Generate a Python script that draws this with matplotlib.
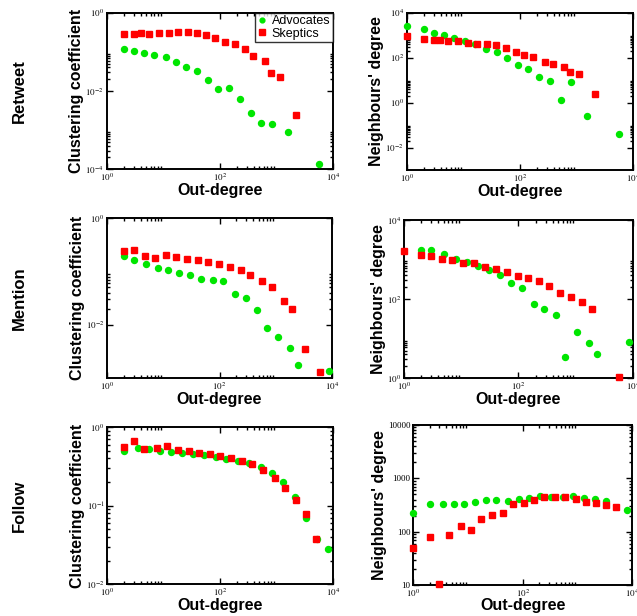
"""
Clustering coefficient and neighbours' degree vs out-degree
for advocates and skeptics in retweet / mention / follow networks
"""

import numpy as np
import matplotlib.pyplot as plt
from matplotlib.ticker import FixedLocator, FuncFormatter, NullFormatter

plt.rcParams['font.family'] = ['Liberation Sans', 'DejaVu Sans']
plt.rcParams['mathtext.fontset'] = 'stix'

GREEN = '#00e600'
RED = '#ff0000'

# Retweet - clustering coefficient
rt_cc_adv_x = [2, 3, 4.5, 7, 11, 16.6, 25, 39, 61, 95, 144, 229, 354, 546, 832, 1620, 5800]
rt_cc_adv_y = [0.116, 0.105, 0.095, 0.081, 0.072, 0.054, 0.041, 0.032, 0.019, 0.0112, 0.0119,
               0.0061, 0.0028, 0.00155, 0.00147, 0.00088, 0.000137]
rt_cc_ske_x = [2, 3, 4.1, 5.5, 8.4, 12.7, 18, 27, 40, 58, 84, 124, 187, 285, 394, 626, 810, 1185, 2274]
rt_cc_ske_y = [0.28, 0.291, 0.297, 0.291, 0.309, 0.309, 0.321, 0.327, 0.309, 0.274, 0.23, 0.178,
               0.162, 0.118, 0.080, 0.059, 0.0288, 0.0223, 0.0024]

# Retweet - neighbours' degree
rt_nd_adv_x = [1, 2, 3, 4.5, 6.9, 10.8, 16.4, 25, 39, 59, 91, 140, 217, 344, 525, 811, 1555, 5577]
rt_nd_adv_y = [2565, 1827, 1300, 1024, 729, 574, 395, 245, 181, 98, 46, 30.8, 14.1, 9.06, 1.3,
               8.47, 0.246, 0.0406]
rt_nd_ske_x = [1, 2, 3, 3.9, 5.4, 8.2, 12.2, 17.3, 25.7, 38.6, 57.3, 84, 119, 172, 273, 379, 593,
               757, 1123, 2155]
rt_nd_ske_y = [925, 705, 637, 615, 537, 555, 453, 423, 409, 357, 272, 175, 129, 105, 65, 51.4,
               39.1, 21.9, 17.9, 2.49]

# Mention - clustering coefficient
mn_cc_adv_x = [2, 3, 4.8, 7.9, 12.2, 19, 30, 47, 75, 117, 189, 293, 466, 693, 1119, 1784, 2510, 8960]
mn_cc_adv_y = [0.197, 0.161, 0.139, 0.117, 0.107, 0.093, 0.0866, 0.0728, 0.0678, 0.0668, 0.0371,
               0.0312, 0.0191, 0.00866, 0.00587, 0.00365, 0.0017, 0.00131]
mn_cc_ske_x = [2, 3, 4.6, 7, 11, 17, 26, 41, 62, 98, 152, 239, 355, 573, 875, 1393, 1989, 3303, 6280]
mn_cc_ske_y = [0.237, 0.248, 0.194, 0.178, 0.2, 0.188, 0.17, 0.163, 0.148, 0.135, 0.122, 0.106,
               0.0866, 0.0649, 0.0501, 0.0278, 0.02, 0.0034, 0.0013]

# Mention - neighbours' degree
mn_nd_adv_x = [2, 3, 5.1, 8, 12.5, 19.4, 30.7, 48, 75, 116, 185, 285, 450, 664, 1062, 1700, 2408, 8510]
mn_nd_adv_y = [1746, 1713, 1358, 1056, 853, 689, 535, 416, 261, 188, 77, 57.5, 40.6, 3.46, 14.8,
               7.96, 4.12, 8.1]
mn_nd_ske_x = [1, 2, 3, 4.6, 7, 10.9, 17, 26, 41, 62.5, 97, 150, 227, 340, 543, 845, 1300, 1919, 5850]
mn_nd_ske_y = [1648, 1279, 1208, 1056, 995, 836, 804, 650, 590, 496, 393, 336, 282, 211, 146, 113,
               85, 56.4, 1.06]

# Follow - clustering coefficient
fl_cc_adv_x = [2, 3.5, 5.5, 8.5, 13.5, 21, 33, 53, 84, 129, 209, 327, 535, 838, 1331, 2115, 3318,
               5347, 8150]
fl_cc_adv_y = [0.504, 0.551, 0.53, 0.5, 0.49, 0.476, 0.457, 0.44, 0.415, 0.391, 0.369, 0.348,
               0.309, 0.265, 0.203, 0.131, 0.0707, 0.0374, 0.0279]
fl_cc_ske_x = [2, 3, 4.4, 7.7, 11.6, 17.7, 27.8, 43, 67, 101, 159, 246, 375, 587, 946, 1425, 2265,
               3318, 5130]
fl_cc_ske_y = [0.567, 0.663, 0.53, 0.551, 0.578, 0.519, 0.5, 0.476, 0.457, 0.436, 0.411, 0.376,
               0.341, 0.289, 0.229, 0.169, 0.12, 0.0787, 0.0374]

# Follow - neighbours' degree
fl_nd_adv_x = [1, 2, 3.5, 5.5, 8.5, 13.4, 21, 33, 53, 84, 131, 209, 331, 542, 836, 1328, 2081,
               3260, 7990]
fl_nd_adv_y = [221, 330, 330, 325, 330, 365, 392, 392, 376, 404, 422, 460, 453, 453, 466, 422,
               404, 370, 251]
fl_nd_ske_x = [1, 2, 2.94, 4.5, 7.5, 11.5, 17.5, 27.7, 43.4, 67, 104, 160, 247, 387, 597, 923,
               1406, 2201, 3258, 5102]
fl_nd_ske_y = [50, 78, 10.4, 85, 130, 109, 173, 202, 227, 326, 340, 398, 440, 440, 440, 410, 360,
               340, 312, 294]

row_labels = ['Retweet', 'Mention', 'Follow']


def pow_fmt(v, pos):
    return r'$10^{%d}$' % int(round(np.log10(v)))


def plain_fmt(v, pos):
    return '%d' % int(round(v))


def log_ticks(lo, hi, step):
    """major ticks every `step` decades, minor 2..9 in the decade after each major"""
    majors = [10.0 ** e for e in range(lo, hi + 1, step)]
    minors = [m * 10.0 ** e for e in range(lo, hi + 1, step) for m in range(2, 10)]
    return majors, minors


def setup_axis(ax, xlim, ylim, ystep=2, ylabel='', plain_y=False, xpad=0):
    ax.set_xscale('log')
    ax.set_yscale('log')
    ax.set_xlim(10.0 ** xlim[0], 10.0 ** xlim[1])
    ax.set_ylim(10.0 ** ylim[0], 10.0 ** ylim[1])

    xmaj, xmin = log_ticks(xlim[0], xlim[1], 2)
    ymaj, ymin = log_ticks(ylim[0], ylim[1], ystep)
    ax.xaxis.set_major_locator(FixedLocator(xmaj))
    ax.xaxis.set_minor_locator(FixedLocator(xmin))
    ax.yaxis.set_major_locator(FixedLocator(ymaj))
    ax.yaxis.set_minor_locator(FixedLocator(ymin))
    ax.xaxis.set_major_formatter(FuncFormatter(pow_fmt))
    ax.yaxis.set_major_formatter(FuncFormatter(plain_fmt if plain_y else pow_fmt))
    ax.xaxis.set_minor_formatter(NullFormatter())
    ax.yaxis.set_minor_formatter(NullFormatter())

    ax.tick_params(which='both', direction='in', top=True, right=True, width=1.0)
    ax.tick_params(which='major', length=4, labelsize=6.5, pad=2)
    ax.tick_params(which='minor', length=2)
    for lab in ax.get_xticklabels() + ax.get_yticklabels():
        lab.set_family('Liberation Serif')
    for sp in ax.spines.values():
        sp.set_linewidth(1.4)

    ax.set_xlabel('Out-degree', fontsize=11.5, fontweight='bold', labelpad=xpad)
    ax.set_ylabel(ylabel, fontsize=11.5, fontweight='bold', labelpad=1)


def scatter_pair(ax, ax_x, ax_y, sk_x, sk_y):
    ax.plot(ax_x, ax_y, 'o', color=GREEN, ms=4.3, mec=GREEN, label='Advocates', clip_on=False, zorder=3)
    ax.plot(sk_x, sk_y, 's', color=RED, ms=4.6, mec=RED, label='Skeptics', clip_on=False, zorder=4)


fig = plt.figure(figsize=(6.37, 6.16), dpi=100)

# axes positions (left, bottom, width, height) in figure fraction
ax1 = fig.add_axes([0.1675, 0.7252, 0.3548, 0.2542])
ax2 = fig.add_axes([0.6385, 0.7240, 0.3553, 0.2554])
ax3 = fig.add_axes([0.1685, 0.3869, 0.3523, 0.2588])
ax4 = fig.add_axes([0.6342, 0.3859, 0.3590, 0.2570])
ax5 = fig.add_axes([0.1685, 0.0515, 0.3538, 0.2549])
ax6 = fig.add_axes([0.6488, 0.0503, 0.3438, 0.2597])

scatter_pair(ax1, rt_cc_adv_x, rt_cc_adv_y, rt_cc_ske_x, rt_cc_ske_y)
setup_axis(ax1, (0, 4), (-4, 0), ylabel='Clustering coefficient')
leg = ax1.legend(loc='upper right', fontsize=9, borderaxespad=0, frameon=True, fancybox=False,
                 markerscale=0.8, handlelength=0.7, handletextpad=0.4, labelspacing=0.05,
                 borderpad=0.2)
leg.get_frame().set_edgecolor('black')
leg.get_frame().set_linewidth(1.0)

scatter_pair(ax2, rt_nd_adv_x, rt_nd_adv_y, rt_nd_ske_x, rt_nd_ske_y)
setup_axis(ax2, (0, 4), (-3, 4), ylabel="Neighbours' degree")
ax2.yaxis.set_major_locator(FixedLocator([1e-2, 1e0, 1e2, 1e4]))
ax2.yaxis.set_minor_locator(FixedLocator([m * 10.0 ** e for e in (-2, 0, 2) for m in range(2, 10)]))

scatter_pair(ax3, mn_cc_adv_x, mn_cc_adv_y, mn_cc_ske_x, mn_cc_ske_y)
setup_axis(ax3, (0, 4), (-3, 0), ylabel='Clustering coefficient')
ax3.yaxis.set_major_locator(FixedLocator([1e-2, 1e0]))
ax3.yaxis.set_minor_locator(FixedLocator([m * 1e-2 for m in range(2, 10)]))

scatter_pair(ax4, mn_nd_adv_x, mn_nd_adv_y, mn_nd_ske_x, mn_nd_ske_y)
setup_axis(ax4, (0, 4), (0, 4), ylabel="Neighbours' degree")

scatter_pair(ax5, fl_cc_adv_x, fl_cc_adv_y, fl_cc_ske_x, fl_cc_ske_y)
setup_axis(ax5, (0, 4), (-2, 0), ystep=1, ylabel='Clustering coefficient', xpad=-0.5)

scatter_pair(ax6, fl_nd_adv_x, fl_nd_adv_y, fl_nd_ske_x, fl_nd_ske_y)
setup_axis(ax6, (0, 4), (1, 4), ystep=1, ylabel="Neighbours' degree", plain_y=True, xpad=-0.5)

for lab, ax in zip(row_labels, [ax1, ax3, ax5]):
    pos = ax.get_position()
    fig.text(0.03, pos.y0 + pos.height / 2, lab, rotation=90, fontsize=12, fontweight='bold',
             ha='center', va='center')

fig.savefig('out.png', dpi=100)
plt.close(fig)
